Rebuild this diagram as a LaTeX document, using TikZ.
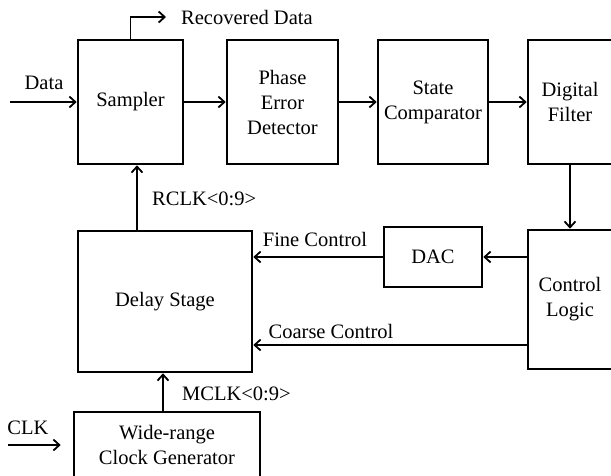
\documentclass[tikz,border=0pt]{standalone}
\usepackage{fontspec}
\setmainfont{Liberation Serif}
\usetikzlibrary{arrows.meta}
\begin{document}
\begin{tikzpicture}[x=1pt,y=-1pt,
  blk/.style={draw,line width=2.6pt,align=center,inner sep=0pt,font=\fontsize{20.5}{25}\selectfont},
  lbl/.style={inner sep=0pt,font=\fontsize{20.5}{25}\selectfont},
  arr/.style={line width=1.8pt,-{Straight Barb[length=6pt,width=11pt,line width=1.8pt]}}]
\clip (0,0) rectangle (611,475);
\useasboundingbox (0,0) rectangle (611,475);
\node[blk,minimum width=105pt,minimum height=124pt] (sam) at (130.5,102) {Sampler};
\node[blk,minimum width=111pt,minimum height=124pt] (ped) at (282.5,102) {Phase\\Error\\Detector};
\node[blk,minimum width=110pt,minimum height=124pt] (sc) at (433,102) {State\\Comparator};
\node[blk,minimum width=84pt,minimum height=124pt] (df) at (570,102) {Digital\\Filter};
\node[blk,minimum width=84pt,minimum height=139pt] (cl) at (570,299.5) {Control\\Logic};
\node[blk,minimum width=98pt,minimum height=60pt] (dac) at (433,257) {DAC};
\node[blk,minimum width=174pt,minimum height=141pt] (ds) at (165,301.5) {Delay Stage};
\node[blk,minimum width=186pt,minimum height=66pt] (wr) at (167,445) {Wide-range\\Clock Generator};
% labels
\node[lbl] (ldata) at (44,83) {Data};
\node[lbl,anchor=west] (lrd) at (181,17) {Recovered Data};
\node[lbl] (lfine) at (315,239) {Fine Control};
\node[lbl] (lcoarse) at (331,331) {Coarse Control};
\node[lbl,anchor=west] (lrclk) at (152,199) {RCLK<0:9>};
\node[lbl,anchor=west] (lmclk) at (182,394) {MCLK<0:9>};
\node[lbl] (lclk) at (28,428) {CLK};
% coordinates
\coordinate (din) at (10,102);
\coordinate (rd) at (166,17);
\coordinate (rc) at (137,0);
\coordinate (mc) at (163,0);
\coordinate (cy) at (0,345);
\coordinate (clkin) at (8,445);
% connectors
\draw[arr] (din) -- (sam.west);
\draw[arr] (sam.north) |- (rd);
\draw[arr] (sam.east) -- (ped.west);
\draw[arr] (ped.east) -- (sc.west);
\draw[arr] (sc.east) -- (df.west);
\draw[arr] (df.south) -- (cl.north);
\draw[arr] (cl.west |- dac.east) -- (dac.east);
\draw[arr] (dac.west) -- (ds.east |- dac.west);
\draw[arr] (cl.west |- cy) -- (ds.east |- cy);
\draw[arr] (ds.north -| rc) -- (sam.south -| rc);
\draw[arr] (wr.north -| mc) -- (ds.south -| mc);
\draw[arr,shorten >=12pt] (clkin) -- (wr.west |- clkin);
\end{tikzpicture}
\end{document}
